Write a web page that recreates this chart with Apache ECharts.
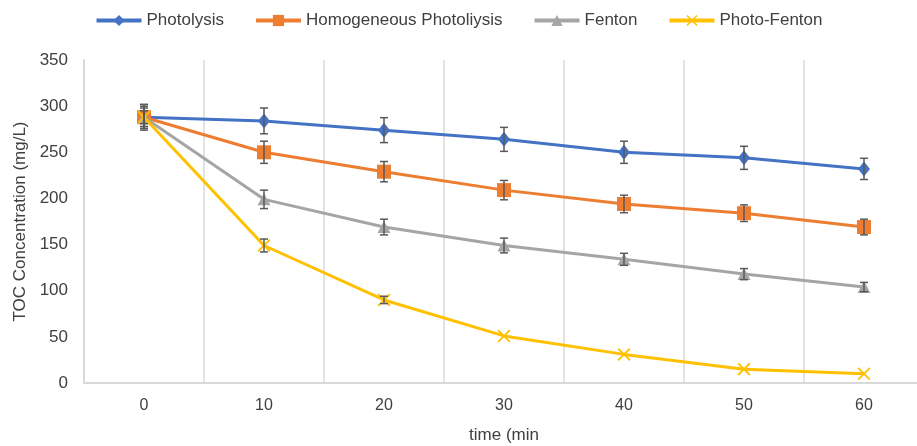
<!DOCTYPE html>
<html>
<head>
<meta charset="utf-8">
<script src="https://cdn.jsdelivr.net/npm/echarts@6/dist/echarts.min.js"></script>
<style>
  html, body { margin: 0; padding: 0; background: #fff; }
  #chart { width: 917px; height: 446px; }
</style>
</head>
<body>
<div id="chart"></div>
<script>
const categories = ['0', '10', '20', '30', '40', '50', '60'];
const seriesNames = ['Photolysis', 'Homogeneous Photoliysis', 'Fenton', 'Photo-Fenton'];

const photolysis = [288, 284, 274, 264, 250, 244, 232];
const homogeneous = [288, 250, 229, 209, 194, 184, 169];
const fenton = [288, 199, 169, 149, 134, 118, 104];
const photoFenton = [288, 149, 90, 51, 31, 15, 10];

const photolysisErr = [14, 14, 13.5, 13, 12, 12.5, 11.5];
const homogeneousErr = [12, 12, 11, 10.5, 9.5, 9, 8.5];
const fentonErr = [10, 10, 8.5, 8, 6.5, 6, 5];
const photoFentonErr = [7, 7, 4, 0, 0, 0, 0];

const colors = ['#4472C4', '#ED7D31', '#A5A5A5', '#FFC000'];
const symbols = [
  'diamond',
  'rect',
  'triangle',
  'path://M0,1 L1,0 L5,4 L9,0 L10,1 L6,5 L10,9 L9,10 L5,6 L1,10 L0,9 L4,5 Z'
];
const symbolSizes = [[12, 15], 14, [13, 12], 13];

const values = [photolysis, homogeneous, fenton, photoFenton];
const errors = [photolysisErr, homogeneousErr, fentonErr, photoFentonErr];

const textColor = '#404040';
const gridColor = '#d9d9d9';

function errorBarSeries(vals, errs) {
  return {
    type: 'custom',
    z: 10,
    silent: true,
    data: vals.map((v, i) => [i, v - errs[i], v + errs[i]]),
    renderItem: function (params, api) {
      if (api.value(1) === api.value(2)) return null;
      const lo = api.coord([api.value(0), api.value(1)]);
      const hi = api.coord([api.value(0), api.value(2)]);
      const cap = 4;
      const style = { stroke: '#595959', lineWidth: 1.5 };
      return {
        type: 'group',
        children: [
          { type: 'line', shape: { x1: lo[0], y1: lo[1], x2: hi[0], y2: hi[1] }, style: style },
          { type: 'line', shape: { x1: lo[0] - cap, y1: lo[1], x2: lo[0] + cap, y2: lo[1] }, style: style },
          { type: 'line', shape: { x1: hi[0] - cap, y1: hi[1], x2: hi[0] + cap, y2: hi[1] }, style: style }
        ]
      };
    }
  };
}

const lineSeries = seriesNames.map((name, k) => ({
  name: name,
  type: 'line',
  data: values[k],
  symbol: symbols[k],
  symbolSize: symbolSizes[k],
  showAllSymbol: true,
  z: 3 + k,
  lineStyle: { color: colors[k], width: 3 },
  itemStyle: { color: colors[k] }
}));

const chart = echarts.init(document.getElementById('chart'));
chart.setOption({
  animation: false,
  color: colors,
  legend: {
    data: seriesNames,
    top: 7,
    left: 'center',
    itemWidth: 45,
    itemHeight: 14,
    itemGap: 30,
    lineStyle: { width: 4 },
    textStyle: { fontSize: 17, color: textColor, fontFamily: 'Liberation Sans' }
  },
  grid: { left: 84, top: 60, width: 840, height: 323, outerBoundsMode: 'none' },
  xAxis: {
    type: 'category',
    data: categories,
    boundaryGap: true,
    name: 'time (min',
    nameLocation: 'middle',
    nameGap: 44,
    nameTextStyle: { fontSize: 17, color: textColor, fontFamily: 'Liberation Sans' },
    axisLine: { lineStyle: { color: gridColor, width: 2 } },
    axisTick: { show: false },
    axisLabel: { fontSize: 16, color: textColor, margin: 15, fontFamily: 'Liberation Sans' },
    splitLine: { show: true, lineStyle: { color: gridColor, width: 1.5 } }
  },
  yAxis: {
    type: 'value',
    min: 0,
    max: 350,
    interval: 50,
    name: 'TOC Concentration (mg/L)',
    nameLocation: 'middle',
    nameGap: 54,
    nameTextStyle: { fontSize: 17, color: textColor, fontFamily: 'Liberation Sans' },
    axisLine: { show: true, lineStyle: { color: gridColor, width: 2 } },
    axisTick: { show: false },
    axisLabel: { fontSize: 17, color: textColor, margin: 16, fontFamily: 'Liberation Sans' },
    splitLine: { show: false }
  },
  series: lineSeries.concat(values.map((v, k) => errorBarSeries(v, errors[k])))
});
</script>
</body>
</html>
